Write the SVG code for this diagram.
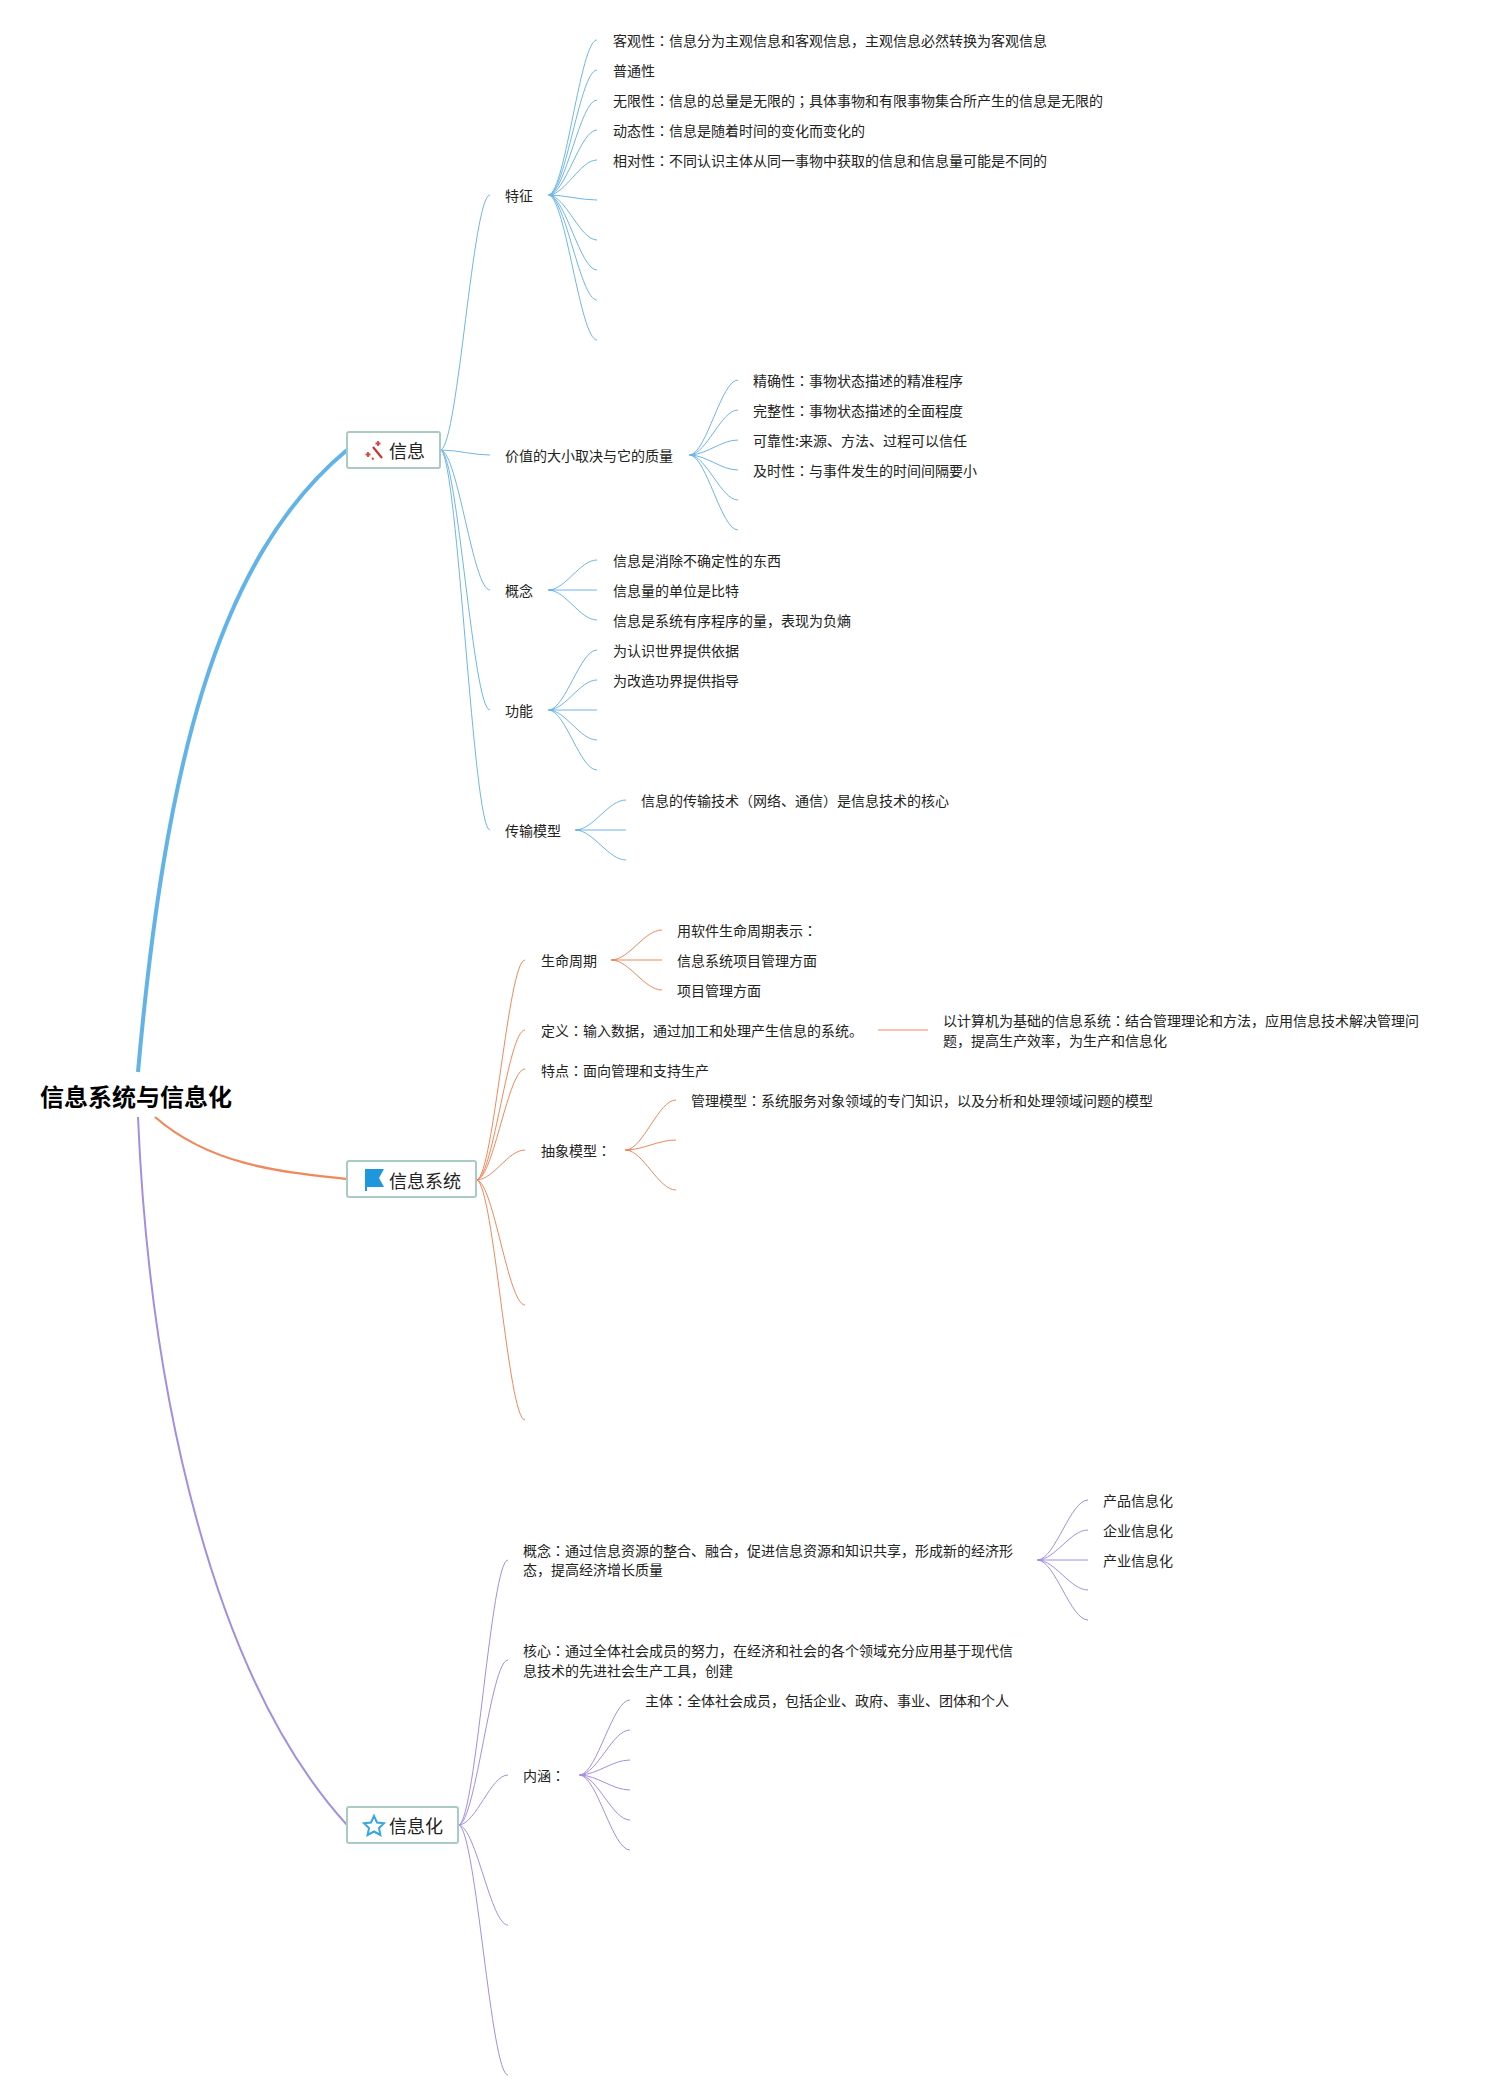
<svg xmlns="http://www.w3.org/2000/svg" width="1503" height="2100" viewBox="0 0 1503 2100">
<style>
text{font-family:"Noto Sans CJK SC","Noto Sans",sans-serif;font-size:14px;fill:#222}
.c{font-family:"Noto Sans CJK TC","Noto Sans",sans-serif}
.root{font-size:24px;font-weight:700;fill:#000}
.main{font-size:18px;fill:#222}
.box{fill:#fff;stroke:#a8cbc3;stroke-width:2}
path{fill:none}
.l{stroke-width:1}
.s{stroke-width:2;stroke-linecap:round}
.b{stroke:#6fb6e8}
.o{stroke:#f0885c}
.p{stroke:#a48ee0}
</style>
<g id="connectors">
<path d="M138 1072C165 770 215 560 347 450" stroke="#62b4e8" stroke-width="4"/>
<path d="M155 1117C210 1165 280 1172 347 1179" stroke="#f0885c" stroke-width="2.2"/>
<path d="M138 1117C150 1400 215 1680 347 1825" stroke="#a48ee0" stroke-width="2"/>
<g class="b l">
<path d="M441 450c17.2 -7.65 31.9 -255 49 -255"/><path d="M441 450c17.2 .15 31.9 5 49 5"/><path d="M441 450c17.2 4.2 31.9 140 49 140"/><path d="M441 450c17.2 7.8 31.9 260 49 260"/><path d="M441 450c17.2 11.4 31.9 380 49 380"/>
<path d="M549 195c16.8 -4.65 31.2 -155 48 -155"/><path d="M549 195c16.8 -3.75 31.2 -125 48 -125"/><path d="M549 195c16.8 -2.85 31.2 -95 48 -95"/><path d="M549 195c16.8 -1.95 31.2 -65 48 -65"/><path d="M549 195c16.8 -1.05 31.2 -35 48 -35"/><path d="M549 195c16.8 .15 31.2 5 48 5"/><path d="M549 195c16.8 1.35 31.2 45 48 45"/><path d="M549 195c16.8 2.25 31.2 75 48 75"/><path d="M549 195c16.8 3.15 31.2 105 48 105"/><path d="M549 195c16.8 4.35 31.2 145 48 145"/>
<path d="M690 455c16.8 -2.25 31.2 -75 48 -75"/><path d="M690 455c16.8 -1.35 31.2 -45 48 -45"/><path d="M690 455c16.8 -.45 31.2 -15 48 -15"/><path d="M690 455c16.8 .45 31.2 15 48 15"/><path d="M690 455c16.8 1.35 31.2 45 48 45"/><path d="M690 455c16.8 2.25 31.2 75 48 75"/>
<path d="M549 590c16.8 -.9 31.2 -30 48 -30"/><path d="M549 590h48"/><path d="M549 590c16.8 .9 31.2 30 48 30"/>
<path d="M549 710c16.8 -1.8 31.2 -60 48 -60"/><path d="M549 710c16.8 -.9 31.2 -30 48 -30"/><path d="M549 710h48"/><path d="M549 710c16.8 .9 31.2 30 48 30"/><path d="M549 710c16.8 1.8 31.2 60 48 60"/>
<path d="M576 830c17.5 -.9 32.5 -30 50 -30"/><path d="M576 830h50"/><path d="M576 830c17.5 .9 32.5 30 50 30"/>
</g>
<g class="b s"><path d="M549 195h4"/><path d="M690 455h4"/><path d="M549 590h4"/><path d="M549 710h4"/><path d="M576 830h4"/></g>
<g class="o l">
<path d="M477 1180c16.8 -6.6 31.2 -220 48 -220"/><path d="M477 1180c16.8 -4.5 31.2 -150 48 -150"/><path d="M477 1180c16.8 -3.33 31.2 -111 48 -111"/><path d="M477 1180c16.8 -.9 31.2 -30 48 -30"/><path d="M477 1180c16.8 3.75 31.2 125 48 125"/><path d="M477 1180c16.8 7.2 31.2 240 48 240"/>
<path d="M612 960c17.5 -.9 32.5 -30 50 -30"/><path d="M612 960h50"/><path d="M612 960c17.5 .9 32.5 30 50 30"/>
<path d="M878 1030h50"/>
<path d="M626 1150c17.5 -1.5 32.5 -50 50 -50"/><path d="M626 1150c17.5 -.3 32.5 -10 50 -10"/><path d="M626 1150c17.5 1.2 32.5 40 50 40"/>
</g>
<g class="o s"><path d="M612 960h4"/><path d="M626 1150h4"/></g>
<g class="p l">
<path d="M459 1825c17.2 -7.95 31.9 -265 49 -265"/><path d="M459 1825c17.2 -4.95 31.9 -165 49 -165"/><path d="M459 1825c17.2 -1.5 31.9 -50 49 -50"/><path d="M459 1825c17.2 3 31.9 100 49 100"/><path d="M459 1825c17.2 7.5 31.9 250 49 250"/>
<path d="M1038 1560c17.5 -1.8 32.5 -60 50 -60"/><path d="M1038 1560c17.5 -.9 32.5 -30 50 -30"/><path d="M1038 1560h50"/><path d="M1038 1560c17.5 .9 32.5 30 50 30"/><path d="M1038 1560c17.5 1.8 32.5 60 50 60"/>
<path d="M580 1775c17.5 -2.25 32.5 -75 50 -75"/><path d="M580 1775c17.5 -1.35 32.5 -45 50 -45"/><path d="M580 1775c17.5 -.45 32.5 -15 50 -15"/><path d="M580 1775c17.5 .45 32.5 15 50 15"/><path d="M580 1775c17.5 1.35 32.5 45 50 45"/><path d="M580 1775c17.5 2.25 32.5 75 50 75"/>
</g>
<g class="p s"><path d="M1038 1560h4"/><path d="M580 1775h4"/></g>
</g>
<g id="root"><text class="root" x="40" y="1106">信息系统与信息化</text></g>
<g id="node-xinxi">
<rect class="box" x="347" y="432" width="93" height="36" rx="2"/>
<path d="M373 447L382 458" stroke="#c8372d" stroke-width="2.2"/>
<path d="M378 441v5M375.5 443.5h5M368 452v5M365.5 454.500h5M372 458l1.500 1.500" stroke="#d4483a" stroke-width="1.8"/>
<text class="main" x="389" y="458">信息</text>
</g>
<g id="node-xinxixitong">
<rect class="box" x="347" y="1161" width="129" height="36" rx="2"/>
<path d="M365 1169H384L379 1178L384 1187H367V1191H365Z" style="fill:#1f97dd"/>
<text class="main" x="389" y="1188">信息系统</text>
</g>
<g id="node-xinxihua">
<rect class="box" x="347" y="1807" width="111" height="36" rx="2"/>
<path d="M374 1816L377 1822.5L384 1823.3L379 1828L380.4 1835L374 1831.5L367.6 1835L369 1828L364 1823.3L371 1822.5Z" stroke="#38a6e0" stroke-width="2" style="fill:#fff"/>
<text class="main" x="389" y="1833">信息化</text>
</g>
<g id="topic-1-1"><text x="505" y="201">特征</text></g>
<g id="topic-1-1-leaves">
<text x="613" y="46">客观性<tspan class="c">：</tspan>信息分为主观信息和客观信息，主观信息必然转换为客观信息</text>
<text x="613" y="76">普通性</text>
<text x="613" y="106">无限性<tspan class="c">：</tspan>信息的总量是无限的<tspan class="c">；</tspan>具体事物和有限事物集合所产生的信息是无限的</text>
<text x="613" y="136">动态性<tspan class="c">：</tspan>信息是随着时间的变化而变化的</text>
<text x="613" y="166">相对性<tspan class="c">：</tspan>不同认识主体从同一事物中获取的信息和信息量可能是不同的</text>
</g>
<g id="topic-1-2"><text x="505" y="461">价值的大小取决与它的质量</text></g>
<g id="topic-1-2-leaves">
<text x="753" y="386">精确性<tspan class="c">：</tspan>事物状态描述的精准程序</text>
<text x="753" y="416">完整性<tspan class="c">：</tspan>事物状态描述的全面程度</text>
<text x="753" y="446">可靠性:来源、方法、过程可以信任</text>
<text x="753" y="476">及时性<tspan class="c">：</tspan>与事件发生的时间间隔要小</text>
</g>
<g id="topic-1-3"><text x="505" y="596">概念</text></g>
<g id="topic-1-3-leaves">
<text x="613" y="566">信息是消除不确定性的东西</text>
<text x="613" y="596">信息量的单位是比特</text>
<text x="613" y="626">信息是系统有序程序的量，表现为负熵</text>
</g>
<g id="topic-1-4"><text x="505" y="716">功能</text></g>
<g id="topic-1-4-leaves">
<text x="613" y="656">为认识世界提供依据</text>
<text x="613" y="686">为改造功界提供指导</text>
</g>
<g id="topic-1-5"><text x="505" y="836">传输模型</text></g>
<g id="topic-1-5-leaves"><text x="641" y="806">信息的传输技术（网络、通信）是信息技术的核心</text></g>
<g id="topic-2-1"><text x="541" y="966">生命周期</text></g>
<g id="topic-2-1-leaves">
<text x="677" y="936">用软件生命周期表示<tspan class="c">：</tspan></text>
<text x="677" y="966">信息系统项目管理方面</text>
<text x="677" y="996">项目管理方面</text>
</g>
<g id="topic-2-2"><text x="541" y="1036">定义<tspan class="c">：</tspan>输入数据，通过加工和处理产生信息的系统。</text></g>
<g id="topic-2-2-leaf"><text x="943" y="1026">以计算机为基础的信息系统<tspan class="c">：</tspan>结合管理理论和方法，应用信息技术解决管理问</text><text x="943" y="1046">题，提高生产效率，为生产和信息化</text></g>
<g id="topic-2-3"><text x="541" y="1076">特点<tspan class="c">：</tspan>面向管理和支持生产</text></g>
<g id="topic-2-4"><text x="541" y="1156">抽象模型<tspan class="c">：</tspan></text></g>
<g id="topic-2-4-leaf"><text x="691" y="1106">管理模型<tspan class="c">：</tspan>系统服务对象领域的专门知识，以及分析和处理领域问题的模型</text></g>
<g id="topic-3-1"><text x="523" y="1556">概念<tspan class="c">：</tspan>通过信息资源的整合、融合，促进信息资源和知识共享，形成新的经济形</text><text x="523" y="1575">态，提高经济增长质量</text></g>
<g id="topic-3-1-leaves">
<text x="1103" y="1506">产品信息化</text>
<text x="1103" y="1536">企业信息化</text>
<text x="1103" y="1566">产业信息化</text>
</g>
<g id="topic-3-2"><text x="523" y="1656">核心<tspan class="c">：</tspan>通过全体社会成员的努力，在经济和社会的各个领域充分应用基于现代信</text><text x="523" y="1676">息技术的先进社会生产工具，创建</text></g>
<g id="topic-3-3"><text x="523" y="1781">内涵<tspan class="c">：</tspan></text></g>
<g id="topic-3-3-leaf"><text x="645" y="1706">主体<tspan class="c">：</tspan>全体社会成员，包括企业、政府、事业、团体和个人</text></g>
</svg>
